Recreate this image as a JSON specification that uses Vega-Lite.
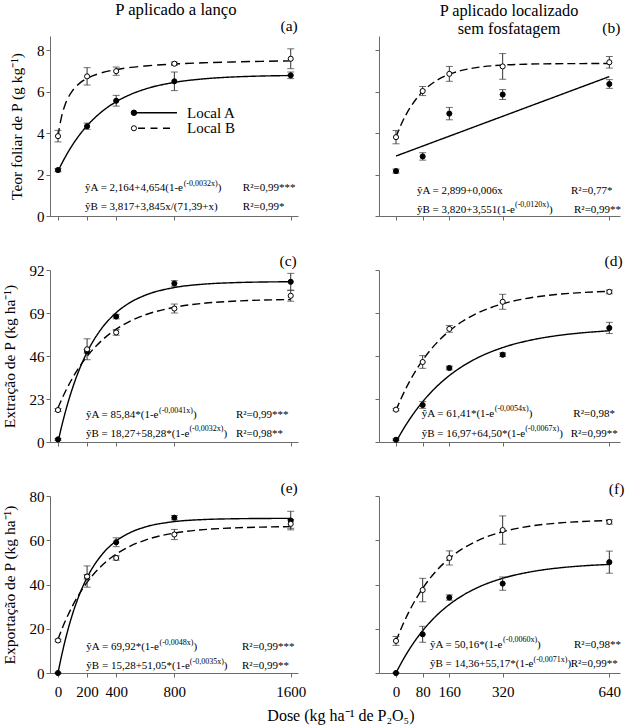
{
"$schema": "https://vega.github.io/schema/vega-lite/v6.json",
"background": "white",
"padding": {"left": 2, "top": 1, "right": 5, "bottom": 0},
"config": {
 "view": {"stroke": null},
 "font": "Liberation Serif",
 "axis": {"domainColor": "#6b6b6b", "tickColor": "#6b6b6b", "tickSize": 4, "labelFont": "Liberation Serif", "labelFontSize": 15, "labelColor": "black", "labelPadding": 2, "titleFont": "Liberation Serif", "titleFontSize": 15.5, "titleFontWeight": "normal", "titleColor": "black", "titlePadding": 12, "grid": false, "labelFlush": false, "format": "d"},
 "axisX": {"labelPadding": 7},
 "text": {"font": "Liberation Serif", "color": "black"}
},
"columns": 2,
"bounds": "flush",
"spacing": {"row": 54, "column": 81},
"resolve": {"scale": {"fill": "independent", "strokeDash": "independent"}},
"datasets": {
 "pts": [
  {"p":"a","x":0,"s":"Local A","y":2.22,"lo":2.14,"hi":2.30},{"p":"a","x":200,"s":"Local A","y":4.34,"lo":4.19,"hi":4.49},{"p":"a","x":400,"s":"Local A","y":5.57,"lo":5.31,"hi":5.83},{"p":"a","x":800,"s":"Local A","y":6.51,"lo":6.06,"hi":6.96},{"p":"a","x":1600,"s":"Local A","y":6.80,"lo":6.64,"hi":6.96},
  {"p":"a","x":0,"s":"Local B","y":3.86,"lo":3.58,"hi":4.14},{"p":"a","x":200,"s":"Local B","y":6.75,"lo":6.33,"hi":7.17},{"p":"a","x":400,"s":"Local B","y":7.00,"lo":6.80,"hi":7.20},{"p":"a","x":800,"s":"Local B","y":7.36,"lo":7.28,"hi":7.44},{"p":"a","x":1600,"s":"Local B","y":7.60,"lo":7.12,"hi":8.08},
  {"p":"b","x":0,"s":"Local A","y":2.17,"lo":2.07,"hi":2.27},{"p":"b","x":80,"s":"Local A","y":2.88,"lo":2.70,"hi":3.06},{"p":"b","x":160,"s":"Local A","y":4.95,"lo":4.65,"hi":5.25},{"p":"b","x":320,"s":"Local A","y":5.87,"lo":5.63,"hi":6.11},{"p":"b","x":640,"s":"Local A","y":6.38,"lo":6.17,"hi":6.59},
  {"p":"b","x":0,"s":"Local B","y":3.81,"lo":3.49,"hi":4.13},{"p":"b","x":80,"s":"Local B","y":6.04,"lo":5.82,"hi":6.26},{"p":"b","x":160,"s":"Local B","y":6.87,"lo":6.51,"hi":7.23},{"p":"b","x":320,"s":"Local B","y":7.23,"lo":6.61,"hi":7.85},{"p":"b","x":640,"s":"Local B","y":7.43,"lo":7.15,"hi":7.71},
  {"p":"c","x":0,"s":"Local A","y":1.4,"lo":0.9,"hi":1.9},{"p":"c","x":200,"s":"Local A","y":48.5,"lo":47.5,"hi":49.5},{"p":"c","x":400,"s":"Local A","y":67.1,"lo":65.9,"hi":68.3},{"p":"c","x":800,"s":"Local A","y":84.8,"lo":83.3,"hi":86.3},{"p":"c","x":1600,"s":"Local A","y":85.7,"lo":81.2,"hi":90.2},
  {"p":"c","x":0,"s":"Local B","y":17.1,"lo":16.3,"hi":17.9},{"p":"c","x":200,"s":"Local B","y":49.6,"lo":44.0,"hi":55.2},{"p":"c","x":400,"s":"Local B","y":58.6,"lo":57.1,"hi":60.1},{"p":"c","x":800,"s":"Local B","y":71.4,"lo":69.0,"hi":73.8},{"p":"c","x":1600,"s":"Local B","y":78.2,"lo":75.3,"hi":81.1},
  {"p":"d","x":0,"s":"Local A","y":1.2,"lo":0.7,"hi":1.7},{"p":"d","x":80,"s":"Local A","y":19.8,"lo":18.0,"hi":21.6},{"p":"d","x":160,"s":"Local A","y":39.6,"lo":38.6,"hi":40.6},{"p":"d","x":320,"s":"Local A","y":46.7,"lo":45.7,"hi":47.7},{"p":"d","x":640,"s":"Local A","y":61.0,"lo":58.0,"hi":64.0},
  {"p":"d","x":0,"s":"Local B","y":17.3,"lo":16.7,"hi":17.9},{"p":"d","x":80,"s":"Local B","y":42.8,"lo":39.4,"hi":46.2},{"p":"d","x":160,"s":"Local B","y":60.5,"lo":58.7,"hi":62.3},{"p":"d","x":320,"s":"Local B","y":75.0,"lo":71.0,"hi":79.0},{"p":"d","x":640,"s":"Local B","y":80.3,"lo":79.3,"hi":81.3},
  {"p":"e","x":0,"s":"Local A","y":0,"lo":0,"hi":0},{"p":"e","x":200,"s":"Local A","y":43.5,"lo":42.5,"hi":44.5},{"p":"e","x":400,"s":"Local A","y":59.1,"lo":57.1,"hi":61.1},{"p":"e","x":800,"s":"Local A","y":70.2,"lo":69.2,"hi":71.2},{"p":"e","x":1600,"s":"Local A","y":68.9,"lo":64.7,"hi":73.1},
  {"p":"e","x":0,"s":"Local B","y":14.7,"lo":14.1,"hi":15.3},{"p":"e","x":200,"s":"Local B","y":43.6,"lo":38.8,"hi":48.4},{"p":"e","x":400,"s":"Local B","y":52.0,"lo":51.0,"hi":53.0},{"p":"e","x":800,"s":"Local B","y":62.6,"lo":60.3,"hi":64.9},{"p":"e","x":1600,"s":"Local B","y":67.4,"lo":65.4,"hi":69.4},
  {"p":"f","x":0,"s":"Local A","y":0,"lo":0,"hi":0},{"p":"f","x":80,"s":"Local A","y":17.5,"lo":13.9,"hi":21.1},{"p":"f","x":160,"s":"Local A","y":34.1,"lo":32.9,"hi":35.3},{"p":"f","x":320,"s":"Local A","y":40.4,"lo":37.4,"hi":43.4},{"p":"f","x":640,"s":"Local A","y":50.1,"lo":45.1,"hi":55.1},
  {"p":"f","x":0,"s":"Local B","y":14.5,"lo":12.5,"hi":16.5},{"p":"f","x":80,"s":"Local B","y":37.5,"lo":32.2,"hi":42.8},{"p":"f","x":160,"s":"Local B","y":52.0,"lo":48.8,"hi":55.2},{"p":"f","x":320,"s":"Local B","y":64.6,"lo":58.2,"hi":71.0},{"p":"f","x":640,"s":"Local B","y":68.3,"lo":67.3,"hi":69.3}
 ],
 "crv": [
  {"p":"a","s":"Local A","x":0,"y":2.164},{"p":"a","s":"Local A","x":25,"y":2.522},{"p":"a","s":"Local A","x":50,"y":2.852},{"p":"a","s":"Local A","x":100,"y":3.439},{"p":"a","s":"Local A","x":150,"y":3.938},{"p":"a","s":"Local A","x":200,"y":4.364},{"p":"a","s":"Local A","x":300,"y":5.036},{"p":"a","s":"Local A","x":400,"y":5.524},{"p":"a","s":"Local A","x":500,"y":5.878},{"p":"a","s":"Local A","x":600,"y":6.136},{"p":"a","s":"Local A","x":800,"y":6.458},{"p":"a","s":"Local A","x":1000,"y":6.628},{"p":"a","s":"Local A","x":1200,"y":6.718},{"p":"a","s":"Local A","x":1400,"y":6.765},{"p":"a","s":"Local A","x":1600,"y":6.790},
  {"p":"a","s":"Local B","x":0,"y":3.817},{"p":"a","s":"Local B","x":5,"y":4.069},{"p":"a","s":"Local B","x":10,"y":4.289},{"p":"a","s":"Local B","x":25,"y":4.814},{"p":"a","s":"Local B","x":50,"y":5.401},{"p":"a","s":"Local B","x":75,"y":5.787},{"p":"a","s":"Local B","x":100,"y":6.060},{"p":"a","s":"Local B","x":150,"y":6.422},{"p":"a","s":"Local B","x":200,"y":6.651},{"p":"a","s":"Local B","x":300,"y":6.923},{"p":"a","s":"Local B","x":400,"y":7.080},{"p":"a","s":"Local B","x":500,"y":7.182},{"p":"a","s":"Local B","x":600,"y":7.253},{"p":"a","s":"Local B","x":800,"y":7.347},{"p":"a","s":"Local B","x":1000,"y":7.406},{"p":"a","s":"Local B","x":1200,"y":7.446},{"p":"a","s":"Local B","x":1400,"y":7.475},{"p":"a","s":"Local B","x":1600,"y":7.498},
  {"p":"b","s":"Local A","x":0,"y":2.899},{"p":"b","s":"Local A","x":640,"y":6.739},
  {"p":"b","s":"Local B","x":0,"y":3.820},{"p":"b","s":"Local B","x":10,"y":4.222},{"p":"b","s":"Local B","x":20,"y":4.578},{"p":"b","s":"Local B","x":40,"y":5.174},{"p":"b","s":"Local B","x":60,"y":5.642},{"p":"b","s":"Local B","x":80,"y":6.011},{"p":"b","s":"Local B","x":120,"y":6.530},{"p":"b","s":"Local B","x":160,"y":6.850},{"p":"b","s":"Local B","x":200,"y":7.049},{"p":"b","s":"Local B","x":240,"y":7.172},{"p":"b","s":"Local B","x":320,"y":7.295},{"p":"b","s":"Local B","x":400,"y":7.342},{"p":"b","s":"Local B","x":480,"y":7.360},{"p":"b","s":"Local B","x":560,"y":7.367},{"p":"b","s":"Local B","x":640,"y":7.369},
  {"p":"c","s":"Local A","x":0,"y":0},{"p":"c","s":"Local A","x":25,"y":8.36},{"p":"c","s":"Local A","x":50,"y":15.91},{"p":"c","s":"Local A","x":100,"y":28.87},{"p":"c","s":"Local A","x":150,"y":39.43},{"p":"c","s":"Local A","x":200,"y":48.03},{"p":"c","s":"Local A","x":300,"y":60.75},{"p":"c","s":"Local A","x":400,"y":69.19},{"p":"c","s":"Local A","x":500,"y":74.79},{"p":"c","s":"Local A","x":600,"y":78.51},{"p":"c","s":"Local A","x":800,"y":82.61},{"p":"c","s":"Local A","x":1000,"y":84.42},{"p":"c","s":"Local A","x":1200,"y":85.21},{"p":"c","s":"Local A","x":1400,"y":85.57},{"p":"c","s":"Local A","x":1600,"y":85.72},
  {"p":"c","s":"Local B","x":0,"y":18.27},{"p":"c","s":"Local B","x":25,"y":22.75},{"p":"c","s":"Local B","x":50,"y":26.89},{"p":"c","s":"Local B","x":100,"y":34.23},{"p":"c","s":"Local B","x":150,"y":40.49},{"p":"c","s":"Local B","x":200,"y":45.82},{"p":"c","s":"Local B","x":300,"y":54.23},{"p":"c","s":"Local B","x":400,"y":60.35},{"p":"c","s":"Local B","x":500,"y":64.78},{"p":"c","s":"Local B","x":600,"y":68.01},{"p":"c","s":"Local B","x":800,"y":72.05},{"p":"c","s":"Local B","x":1000,"y":74.17},{"p":"c","s":"Local B","x":1200,"y":75.30},{"p":"c","s":"Local B","x":1400,"y":75.89},{"p":"c","s":"Local B","x":1600,"y":76.20},
  {"p":"d","s":"Local A","x":0,"y":0},{"p":"d","s":"Local A","x":10,"y":3.23},{"p":"d","s":"Local A","x":20,"y":6.29},{"p":"d","s":"Local A","x":40,"y":11.93},{"p":"d","s":"Local A","x":60,"y":16.99},{"p":"d","s":"Local A","x":80,"y":21.54},{"p":"d","s":"Local A","x":120,"y":29.29},{"p":"d","s":"Local A","x":160,"y":35.53},{"p":"d","s":"Local A","x":200,"y":40.55},{"p":"d","s":"Local A","x":240,"y":44.61},{"p":"d","s":"Local A","x":320,"y":50.50},{"p":"d","s":"Local A","x":400,"y":54.33},{"p":"d","s":"Local A","x":480,"y":56.81},{"p":"d","s":"Local A","x":560,"y":58.42},{"p":"d","s":"Local A","x":640,"y":59.47},
  {"p":"d","s":"Local B","x":0,"y":16.97},{"p":"d","s":"Local B","x":10,"y":21.15},{"p":"d","s":"Local B","x":20,"y":25.06},{"p":"d","s":"Local B","x":40,"y":32.13},{"p":"d","s":"Local B","x":60,"y":38.32},{"p":"d","s":"Local B","x":80,"y":43.73},{"p":"d","s":"Local B","x":120,"y":52.61},{"p":"d","s":"Local B","x":160,"y":59.39},{"p":"d","s":"Local B","x":200,"y":64.58},{"p":"d","s":"Local B","x":240,"y":68.55},{"p":"d","s":"Local B","x":320,"y":73.91},{"p":"d","s":"Local B","x":400,"y":77.05},{"p":"d","s":"Local B","x":480,"y":78.88},{"p":"d","s":"Local B","x":560,"y":79.95},{"p":"d","s":"Local B","x":640,"y":80.59},
  {"p":"e","s":"Local A","x":0,"y":0},{"p":"e","s":"Local A","x":25,"y":7.91},{"p":"e","s":"Local A","x":50,"y":14.92},{"p":"e","s":"Local A","x":100,"y":26.65},{"p":"e","s":"Local A","x":150,"y":35.88},{"p":"e","s":"Local A","x":200,"y":43.15},{"p":"e","s":"Local A","x":300,"y":53.36},{"p":"e","s":"Local A","x":400,"y":59.67},{"p":"e","s":"Local A","x":500,"y":63.58},{"p":"e","s":"Local A","x":600,"y":66.00},{"p":"e","s":"Local A","x":800,"y":68.42},{"p":"e","s":"Local A","x":1000,"y":69.35},{"p":"e","s":"Local A","x":1200,"y":69.70},{"p":"e","s":"Local A","x":1400,"y":69.84},{"p":"e","s":"Local A","x":1600,"y":69.89},
  {"p":"e","s":"Local B","x":0,"y":15.28},{"p":"e","s":"Local B","x":25,"y":19.56},{"p":"e","s":"Local B","x":50,"y":23.47},{"p":"e","s":"Local B","x":100,"y":30.36},{"p":"e","s":"Local B","x":150,"y":36.13},{"p":"e","s":"Local B","x":200,"y":40.98},{"p":"e","s":"Local B","x":300,"y":48.47},{"p":"e","s":"Local B","x":400,"y":53.74},{"p":"e","s":"Local B","x":500,"y":57.46},{"p":"e","s":"Local B","x":600,"y":60.08},{"p":"e","s":"Local B","x":800,"y":63.23},{"p":"e","s":"Local B","x":1000,"y":64.79},{"p":"e","s":"Local B","x":1200,"y":65.56},{"p":"e","s":"Local B","x":1400,"y":65.95},{"p":"e","s":"Local B","x":1600,"y":66.14},
  {"p":"f","s":"Local A","x":0,"y":0},{"p":"f","s":"Local A","x":10,"y":2.92},{"p":"f","s":"Local A","x":20,"y":5.67},{"p":"f","s":"Local A","x":40,"y":10.70},{"p":"f","s":"Local A","x":60,"y":15.16},{"p":"f","s":"Local A","x":80,"y":19.12},{"p":"f","s":"Local A","x":120,"y":25.74},{"p":"f","s":"Local A","x":160,"y":30.95},{"p":"f","s":"Local A","x":200,"y":35.05},{"p":"f","s":"Local A","x":240,"y":38.28},{"p":"f","s":"Local A","x":320,"y":42.81},{"p":"f","s":"Local A","x":400,"y":45.61},{"p":"f","s":"Local A","x":480,"y":47.35},{"p":"f","s":"Local A","x":560,"y":48.42},{"p":"f","s":"Local A","x":640,"y":49.08},
  {"p":"f","s":"Local B","x":0,"y":14.36},{"p":"f","s":"Local B","x":10,"y":18.14},{"p":"f","s":"Local B","x":20,"y":21.66},{"p":"f","s":"Local B","x":40,"y":28.00},{"p":"f","s":"Local B","x":60,"y":33.50},{"p":"f","s":"Local B","x":80,"y":38.27},{"p":"f","s":"Local B","x":120,"y":45.99},{"p":"f","s":"Local B","x":160,"y":51.82},{"p":"f","s":"Local B","x":200,"y":56.20},{"p":"f","s":"Local B","x":240,"y":59.49},{"p":"f","s":"Local B","x":320,"y":63.84},{"p":"f","s":"Local B","x":400,"y":66.31},{"p":"f","s":"Local B","x":480,"y":67.70},{"p":"f","s":"Local B","x":560,"y":68.49},{"p":"f","s":"Local B","x":640,"y":68.95}
 ]
},
"concat": [
 {
  "width": 248, "height": 180,
  "layer": [
   {"data": {"name": "crv"}, "transform": [{"filter": "datum.p === 'a'"}],
    "mark": {"type": "line", "interpolate": "monotone", "color": "black", "strokeWidth": 1.4},
    "encoding": {
     "x": {"field": "x", "type": "quantitative", "scale": {"domain": [-55, 1650], "nice": false}, "axis": {"values": [0, 200, 400, 800, 1600], "labels": false, "title": null}},
     "y": {"field": "y", "type": "quantitative", "scale": {"domain": [0, 8.7], "nice": false}, "axis": {"values": [0, 2, 4, 6, 8], "title": "Teor foliar de P (g kg⁻¹)"}},
     "detail": {"field": "s"},
     "strokeDash": {"field": "s", "type": "nominal", "scale": {"domain": ["Local A", "Local B"], "range": [[1, 0], [9, 5]]}, "legend": null}
    }},
   {"data": {"name": "pts"}, "transform": [{"filter": "datum.p === 'a'"}], "mark": {"type": "rule", "color": "#333", "strokeWidth": 1},
    "encoding": {"x": {"field": "x", "type": "quantitative"}, "y": {"field": "lo", "type": "quantitative"}, "y2": {"field": "hi"}}},
   {"data": {"name": "pts"}, "transform": [{"filter": "datum.p === 'a'"}], "mark": {"type": "tick", "orient": "horizontal", "size": 7, "thickness": 1, "color": "#333"},
    "encoding": {"x": {"field": "x", "type": "quantitative"}, "y": {"field": "lo", "type": "quantitative"}}},
   {"data": {"name": "pts"}, "transform": [{"filter": "datum.p === 'a'"}], "mark": {"type": "tick", "orient": "horizontal", "size": 7, "thickness": 1, "color": "#333"},
    "encoding": {"x": {"field": "x", "type": "quantitative"}, "y": {"field": "hi", "type": "quantitative"}}},
   {"data": {"name": "pts"}, "transform": [{"filter": "datum.p === 'a'"}],
    "mark": {"type": "point", "shape": "circle", "filled": true, "size": 26, "stroke": "black", "strokeWidth": 1, "opacity": 1},
    "encoding": {"x": {"field": "x", "type": "quantitative"}, "y": {"field": "y", "type": "quantitative"},
     "fill": {"field": "s", "type": "nominal", "scale": {"domain": ["Local A", "Local B"], "range": ["black", "white"]}, "legend": null}}},
   {"data": {"values": [{}]}, "mark": {"type": "rule", "color": "black", "strokeWidth": 1.4}, "encoding": {"x": {"datum": 522}, "x2": {"datum": 818}, "y": {"datum": 4.99}}},
   {"data": {"values": [{}]}, "mark": {"type": "rule", "color": "black", "strokeWidth": 1.4, "strokeDash": [7, 5.5]}, "encoding": {"x": {"datum": 550}, "x2": {"datum": 800}, "y": {"datum": 4.24}}},
   {"data": {"values": [{}]}, "mark": {"type": "point", "shape": "circle", "filled": true, "size": 30, "fill": "black", "stroke": "black", "strokeWidth": 1, "opacity": 1}, "encoding": {"x": {"datum": 522}, "y": {"datum": 4.99}}},
   {"data": {"values": [{}]}, "mark": {"type": "point", "shape": "circle", "filled": true, "size": 26, "fill": "white", "stroke": "black", "strokeWidth": 1, "opacity": 1}, "encoding": {"x": {"datum": 522}, "y": {"datum": 4.24}}},
   {"data": {"values": [{}]}, "mark": {"type": "text", "align": "left", "baseline": "middle", "fontSize": 15}, "encoding": {"x": {"datum": 887}, "y": {"datum": 4.99}, "text": {"value": "Local A"}}},
   {"data": {"values": [{}]}, "mark": {"type": "text", "align": "left", "baseline": "middle", "fontSize": 15}, "encoding": {"x": {"datum": 887}, "y": {"datum": 4.24}, "text": {"value": "Local B"}}},
   {"data": {"values": [{}]}, "mark": {"type": "text", "align": "center", "baseline": "alphabetic", "fontSize": 16.7}, "encoding": {"x": {"datum": 811}, "y": {"datum": 9.715}, "text": {"value": "P aplicado a lanço"}}},
   {"data": {"values": [{}]}, "mark": {"type": "text", "align": "left", "baseline": "middle", "fontSize": 11}, "encoding": {"x": {"datum": 186}, "y": {"datum": 1.34}, "text": {"value": "ŷA = 2,164+4,654(1-e"}}},
   {"data": {"values": [{}]}, "mark": {"type": "text", "align": "left", "baseline": "middle", "fontSize": 8, "dx": 98.6, "dy": -4.5}, "encoding": {"x": {"datum": 186}, "y": {"datum": 1.34}, "text": {"value": "(-0,0032x)"}}},
   {"data": {"values": [{}]}, "mark": {"type": "text", "align": "left", "baseline": "middle", "fontSize": 11, "dx": 132.6}, "encoding": {"x": {"datum": 186}, "y": {"datum": 1.34}, "text": {"value": ")"}}},
   {"data": {"values": [{}]}, "mark": {"type": "text", "align": "left", "baseline": "middle", "fontSize": 11}, "encoding": {"x": {"datum": 186}, "y": {"datum": 0.42}, "text": {"value": "ŷB = 3,817+3,845x/(71,39+x)"}}},
   {"data": {"values": [{}]}, "mark": {"type": "text", "align": "left", "baseline": "middle", "fontSize": 11}, "encoding": {"x": {"datum": 1271}, "y": {"datum": 1.34}, "text": {"value": "R²=0,99***"}}},
   {"data": {"values": [{}]}, "mark": {"type": "text", "align": "left", "baseline": "middle", "fontSize": 11}, "encoding": {"x": {"datum": 1271}, "y": {"datum": 0.42}, "text": {"value": "R²=0,99*"}}},
   {"data": {"values": [{}]}, "mark": {"type": "text", "align": "right", "baseline": "middle", "fontSize": 15.5}, "encoding": {"x": {"datum": 1648}, "y": {"datum": 9.18}, "text": {"value": "(a)"}}}
  ]
 },
 {
  "width": 241, "height": 180,
  "layer": [
   {"data": {"name": "crv"}, "transform": [{"filter": "datum.p === 'b'"}],
    "mark": {"type": "line", "interpolate": "monotone", "color": "black", "strokeWidth": 1.4},
    "encoding": {
     "x": {"field": "x", "type": "quantitative", "scale": {"domain": [-51, 672], "nice": false}, "axis": {"values": [0, 80, 160, 320, 640], "labels": false, "title": null}},
     "y": {"field": "y", "type": "quantitative", "scale": {"domain": [0, 8.7], "nice": false}, "axis": {"values": [0, 2, 4, 6, 8], "labels": false, "title": null}},
     "detail": {"field": "s"},
     "strokeDash": {"field": "s", "type": "nominal", "scale": {"domain": ["Local A", "Local B"], "range": [[1, 0], [8, 4]]}, "legend": null}
    }},
   {"data": {"name": "pts"}, "transform": [{"filter": "datum.p === 'b'"}], "mark": {"type": "rule", "color": "#333", "strokeWidth": 1},
    "encoding": {"x": {"field": "x", "type": "quantitative"}, "y": {"field": "lo", "type": "quantitative"}, "y2": {"field": "hi"}}},
   {"data": {"name": "pts"}, "transform": [{"filter": "datum.p === 'b'"}], "mark": {"type": "tick", "orient": "horizontal", "size": 7, "thickness": 1, "color": "#333"},
    "encoding": {"x": {"field": "x", "type": "quantitative"}, "y": {"field": "lo", "type": "quantitative"}}},
   {"data": {"name": "pts"}, "transform": [{"filter": "datum.p === 'b'"}], "mark": {"type": "tick", "orient": "horizontal", "size": 7, "thickness": 1, "color": "#333"},
    "encoding": {"x": {"field": "x", "type": "quantitative"}, "y": {"field": "hi", "type": "quantitative"}}},
   {"data": {"name": "pts"}, "transform": [{"filter": "datum.p === 'b'"}],
    "mark": {"type": "point", "shape": "circle", "filled": true, "size": 26, "stroke": "black", "strokeWidth": 1, "opacity": 1},
    "encoding": {"x": {"field": "x", "type": "quantitative"}, "y": {"field": "y", "type": "quantitative"},
     "fill": {"field": "s", "type": "nominal", "scale": {"domain": ["Local A", "Local B"], "range": ["black", "white"]}, "legend": null}}},
   {"data": {"values": [{}]}, "mark": {"type": "text", "align": "center", "baseline": "alphabetic", "fontSize": 16.3}, "encoding": {"x": {"datum": 339}, "y": {"datum": 9.67}, "text": {"value": "P aplicado localizado"}}},
   {"data": {"values": [{}]}, "mark": {"type": "text", "align": "center", "baseline": "alphabetic", "fontSize": 16.3}, "encoding": {"x": {"datum": 339}, "y": {"datum": 8.82}, "text": {"value": "sem fosfatagem"}}},
   {"data": {"values": [{}]}, "mark": {"type": "text", "align": "left", "baseline": "middle", "fontSize": 11}, "encoding": {"x": {"datum": 63}, "y": {"datum": 1.19}, "text": {"value": "ŷA = 2,899+0,006x"}}},
   {"data": {"values": [{}]}, "mark": {"type": "text", "align": "left", "baseline": "middle", "fontSize": 11}, "encoding": {"x": {"datum": 63}, "y": {"datum": 0.30}, "text": {"value": "ŷB = 3,820+3,551(1-e"}}},
   {"data": {"values": [{}]}, "mark": {"type": "text", "align": "left", "baseline": "middle", "fontSize": 8, "dx": 98.0, "dy": -4.5}, "encoding": {"x": {"datum": 63}, "y": {"datum": 0.30}, "text": {"value": "(-0,0120x)"}}},
   {"data": {"values": [{}]}, "mark": {"type": "text", "align": "left", "baseline": "middle", "fontSize": 11, "dx": 132.0}, "encoding": {"x": {"datum": 63}, "y": {"datum": 0.30}, "text": {"value": ")"}}},
   {"data": {"values": [{}]}, "mark": {"type": "text", "align": "left", "baseline": "middle", "fontSize": 11}, "encoding": {"x": {"datum": 525}, "y": {"datum": 1.19}, "text": {"value": "R²=0,77*"}}},
   {"data": {"values": [{}]}, "mark": {"type": "text", "align": "left", "baseline": "middle", "fontSize": 11}, "encoding": {"x": {"datum": 534}, "y": {"datum": 0.30}, "text": {"value": "R²=0,99**"}}},
   {"data": {"values": [{}]}, "mark": {"type": "text", "align": "right", "baseline": "middle", "fontSize": 15.5}, "encoding": {"x": {"datum": 673}, "y": {"datum": 9.09}, "text": {"value": "(b)"}}}
  ]
 },
 {
  "width": 248, "height": 172,
  "layer": [
   {"data": {"name": "crv"}, "transform": [{"filter": "datum.p === 'c'"}],
    "mark": {"type": "line", "interpolate": "monotone", "color": "black", "strokeWidth": 1.4},
    "encoding": {
     "x": {"field": "x", "type": "quantitative", "scale": {"domain": [-55, 1650], "nice": false}, "axis": {"values": [0, 200, 400, 800, 1600], "labels": false, "title": null}},
     "y": {"field": "y", "type": "quantitative", "scale": {"domain": [0, 92], "nice": false}, "axis": {"values": [0, 23, 46, 69, 92], "title": "Extração de P (kg ha⁻¹)"}},
     "detail": {"field": "s"},
     "strokeDash": {"field": "s", "type": "nominal", "scale": {"domain": ["Local A", "Local B"], "range": [[1, 0], [8, 4]]}, "legend": null}
    }},
   {"data": {"name": "pts"}, "transform": [{"filter": "datum.p === 'c'"}], "mark": {"type": "rule", "color": "#333", "strokeWidth": 1},
    "encoding": {"x": {"field": "x", "type": "quantitative"}, "y": {"field": "lo", "type": "quantitative"}, "y2": {"field": "hi"}}},
   {"data": {"name": "pts"}, "transform": [{"filter": "datum.p === 'c'"}], "mark": {"type": "tick", "orient": "horizontal", "size": 7, "thickness": 1, "color": "#333"},
    "encoding": {"x": {"field": "x", "type": "quantitative"}, "y": {"field": "lo", "type": "quantitative"}}},
   {"data": {"name": "pts"}, "transform": [{"filter": "datum.p === 'c'"}], "mark": {"type": "tick", "orient": "horizontal", "size": 7, "thickness": 1, "color": "#333"},
    "encoding": {"x": {"field": "x", "type": "quantitative"}, "y": {"field": "hi", "type": "quantitative"}}},
   {"data": {"name": "pts"}, "transform": [{"filter": "datum.p === 'c'"}],
    "mark": {"type": "point", "shape": "circle", "filled": true, "size": 26, "stroke": "black", "strokeWidth": 1, "opacity": 1},
    "encoding": {"x": {"field": "x", "type": "quantitative"}, "y": {"field": "y", "type": "quantitative"},
     "fill": {"field": "s", "type": "nominal", "scale": {"domain": ["Local A", "Local B"], "range": ["black", "white"]}, "legend": null}}},
   {"data": {"values": [{}]}, "mark": {"type": "text", "align": "left", "baseline": "middle", "fontSize": 11}, "encoding": {"x": {"datum": 192}, "y": {"datum": 14.2}, "text": {"value": "ŷA = 85,84*(1-e"}}},
   {"data": {"values": [{}]}, "mark": {"type": "text", "align": "left", "baseline": "middle", "fontSize": 8, "dx": 73.1, "dy": -4.5}, "encoding": {"x": {"datum": 192}, "y": {"datum": 14.2}, "text": {"value": "(-0,0041x)"}}},
   {"data": {"values": [{}]}, "mark": {"type": "text", "align": "left", "baseline": "middle", "fontSize": 11, "dx": 107.1}, "encoding": {"x": {"datum": 192}, "y": {"datum": 14.2}, "text": {"value": ")"}}},
   {"data": {"values": [{}]}, "mark": {"type": "text", "align": "left", "baseline": "middle", "fontSize": 11}, "encoding": {"x": {"datum": 192}, "y": {"datum": 4.4}, "text": {"value": "ŷB = 18,27+58,28*(1-e"}}},
   {"data": {"values": [{}]}, "mark": {"type": "text", "align": "left", "baseline": "middle", "fontSize": 8, "dx": 103.5, "dy": -4.5}, "encoding": {"x": {"datum": 192}, "y": {"datum": 4.4}, "text": {"value": "(-0,0032x)"}}},
   {"data": {"values": [{}]}, "mark": {"type": "text", "align": "left", "baseline": "middle", "fontSize": 11, "dx": 137.5}, "encoding": {"x": {"datum": 192}, "y": {"datum": 4.4}, "text": {"value": ")"}}},
   {"data": {"values": [{}]}, "mark": {"type": "text", "align": "left", "baseline": "middle", "fontSize": 11}, "encoding": {"x": {"datum": 1223}, "y": {"datum": 14.2}, "text": {"value": "R²=0,99***"}}},
   {"data": {"values": [{}]}, "mark": {"type": "text", "align": "left", "baseline": "middle", "fontSize": 11}, "encoding": {"x": {"datum": 1223}, "y": {"datum": 4.4}, "text": {"value": "R²=0,98**"}}},
   {"data": {"values": [{}]}, "mark": {"type": "text", "align": "right", "baseline": "middle", "fontSize": 15.5}, "encoding": {"x": {"datum": 1641}, "y": {"datum": 96.8}, "text": {"value": "(c)"}}}
  ]
 },
 {
  "width": 241, "height": 172,
  "layer": [
   {"data": {"name": "crv"}, "transform": [{"filter": "datum.p === 'd'"}],
    "mark": {"type": "line", "interpolate": "monotone", "color": "black", "strokeWidth": 1.4},
    "encoding": {
     "x": {"field": "x", "type": "quantitative", "scale": {"domain": [-51, 672], "nice": false}, "axis": {"values": [0, 80, 160, 320, 640], "labels": false, "title": null}},
     "y": {"field": "y", "type": "quantitative", "scale": {"domain": [0, 92], "nice": false}, "axis": {"values": [0, 23, 46, 69, 92], "labels": false, "title": null}},
     "detail": {"field": "s"},
     "strokeDash": {"field": "s", "type": "nominal", "scale": {"domain": ["Local A", "Local B"], "range": [[1, 0], [8, 4]]}, "legend": null}
    }},
   {"data": {"name": "pts"}, "transform": [{"filter": "datum.p === 'd'"}], "mark": {"type": "rule", "color": "#333", "strokeWidth": 1},
    "encoding": {"x": {"field": "x", "type": "quantitative"}, "y": {"field": "lo", "type": "quantitative"}, "y2": {"field": "hi"}}},
   {"data": {"name": "pts"}, "transform": [{"filter": "datum.p === 'd'"}], "mark": {"type": "tick", "orient": "horizontal", "size": 7, "thickness": 1, "color": "#333"},
    "encoding": {"x": {"field": "x", "type": "quantitative"}, "y": {"field": "lo", "type": "quantitative"}}},
   {"data": {"name": "pts"}, "transform": [{"filter": "datum.p === 'd'"}], "mark": {"type": "tick", "orient": "horizontal", "size": 7, "thickness": 1, "color": "#333"},
    "encoding": {"x": {"field": "x", "type": "quantitative"}, "y": {"field": "hi", "type": "quantitative"}}},
   {"data": {"name": "pts"}, "transform": [{"filter": "datum.p === 'd'"}],
    "mark": {"type": "point", "shape": "circle", "filled": true, "size": 26, "stroke": "black", "strokeWidth": 1, "opacity": 1},
    "encoding": {"x": {"field": "x", "type": "quantitative"}, "y": {"field": "y", "type": "quantitative"},
     "fill": {"field": "s", "type": "nominal", "scale": {"domain": ["Local A", "Local B"], "range": ["black", "white"]}, "legend": null}}},
   {"data": {"values": [{}]}, "mark": {"type": "text", "align": "left", "baseline": "middle", "fontSize": 11}, "encoding": {"x": {"datum": 77}, "y": {"datum": 15.0}, "text": {"value": "ŷA = 61,41*(1-e"}}},
   {"data": {"values": [{}]}, "mark": {"type": "text", "align": "left", "baseline": "middle", "fontSize": 8, "dx": 73.1, "dy": -4.5}, "encoding": {"x": {"datum": 77}, "y": {"datum": 15.0}, "text": {"value": "(-0,0054x)"}}},
   {"data": {"values": [{}]}, "mark": {"type": "text", "align": "left", "baseline": "middle", "fontSize": 11, "dx": 107.1}, "encoding": {"x": {"datum": 77}, "y": {"datum": 15.0}, "text": {"value": ")"}}},
   {"data": {"values": [{}]}, "mark": {"type": "text", "align": "left", "baseline": "middle", "fontSize": 11}, "encoding": {"x": {"datum": 77}, "y": {"datum": 4.3}, "text": {"value": "ŷB = 16,97+64,50*(1-e"}}},
   {"data": {"values": [{}]}, "mark": {"type": "text", "align": "left", "baseline": "middle", "fontSize": 8, "dx": 103.5, "dy": -4.5}, "encoding": {"x": {"datum": 77}, "y": {"datum": 4.3}, "text": {"value": "(-0,0067x)"}}},
   {"data": {"values": [{}]}, "mark": {"type": "text", "align": "left", "baseline": "middle", "fontSize": 11, "dx": 137.5}, "encoding": {"x": {"datum": 77}, "y": {"datum": 4.3}, "text": {"value": ")"}}},
   {"data": {"values": [{}]}, "mark": {"type": "text", "align": "left", "baseline": "middle", "fontSize": 11}, "encoding": {"x": {"datum": 532}, "y": {"datum": 15.0}, "text": {"value": "R²=0,98*"}}},
   {"data": {"values": [{}]}, "mark": {"type": "text", "align": "left", "baseline": "middle", "fontSize": 11}, "encoding": {"x": {"datum": 524}, "y": {"datum": 4.3}, "text": {"value": "R²=0,99**"}}},
   {"data": {"values": [{}]}, "mark": {"type": "text", "align": "right", "baseline": "middle", "fontSize": 15.5}, "encoding": {"x": {"datum": 680}, "y": {"datum": 96.8}, "text": {"value": "(d)"}}}
  ]
 },
 {
  "width": 248, "height": 177,
  "layer": [
   {"data": {"name": "crv"}, "transform": [{"filter": "datum.p === 'e'"}],
    "mark": {"type": "line", "interpolate": "monotone", "color": "black", "strokeWidth": 1.4},
    "encoding": {
     "x": {"field": "x", "type": "quantitative", "scale": {"domain": [-55, 1650], "nice": false}, "axis": {"values": [0, 200, 400, 800, 1600], "title": null}},
     "y": {"field": "y", "type": "quantitative", "scale": {"domain": [0, 80], "nice": false}, "axis": {"values": [0, 20, 40, 60, 80], "title": "Exportação de P (kg ha⁻¹)"}},
     "detail": {"field": "s"},
     "strokeDash": {"field": "s", "type": "nominal", "scale": {"domain": ["Local A", "Local B"], "range": [[1, 0], [8, 4]]}, "legend": null}
    }},
   {"data": {"name": "pts"}, "transform": [{"filter": "datum.p === 'e'"}], "mark": {"type": "rule", "color": "#333", "strokeWidth": 1},
    "encoding": {"x": {"field": "x", "type": "quantitative"}, "y": {"field": "lo", "type": "quantitative"}, "y2": {"field": "hi"}}},
   {"data": {"name": "pts"}, "transform": [{"filter": "datum.p === 'e'"}], "mark": {"type": "tick", "orient": "horizontal", "size": 7, "thickness": 1, "color": "#333"},
    "encoding": {"x": {"field": "x", "type": "quantitative"}, "y": {"field": "lo", "type": "quantitative"}}},
   {"data": {"name": "pts"}, "transform": [{"filter": "datum.p === 'e'"}], "mark": {"type": "tick", "orient": "horizontal", "size": 7, "thickness": 1, "color": "#333"},
    "encoding": {"x": {"field": "x", "type": "quantitative"}, "y": {"field": "hi", "type": "quantitative"}}},
   {"data": {"name": "pts"}, "transform": [{"filter": "datum.p === 'e'"}],
    "mark": {"type": "point", "shape": "circle", "filled": true, "size": 26, "stroke": "black", "strokeWidth": 1, "opacity": 1},
    "encoding": {"x": {"field": "x", "type": "quantitative"}, "y": {"field": "y", "type": "quantitative"},
     "fill": {"field": "s", "type": "nominal", "scale": {"domain": ["Local A", "Local B"], "range": ["black", "white"]}, "legend": null}}},
   {"data": {"values": [{}]}, "mark": {"type": "text", "align": "left", "baseline": "middle", "fontSize": 11}, "encoding": {"x": {"datum": 195}, "y": {"datum": 11.6}, "text": {"value": "ŷA = 69,92*(1-e"}}},
   {"data": {"values": [{}]}, "mark": {"type": "text", "align": "left", "baseline": "middle", "fontSize": 8, "dx": 73.1, "dy": -4.5}, "encoding": {"x": {"datum": 195}, "y": {"datum": 11.6}, "text": {"value": "(-0,0048x)"}}},
   {"data": {"values": [{}]}, "mark": {"type": "text", "align": "left", "baseline": "middle", "fontSize": 11, "dx": 107.1}, "encoding": {"x": {"datum": 195}, "y": {"datum": 11.6}, "text": {"value": ")"}}},
   {"data": {"values": [{}]}, "mark": {"type": "text", "align": "left", "baseline": "middle", "fontSize": 11}, "encoding": {"x": {"datum": 195}, "y": {"datum": 3.0}, "text": {"value": "ŷB = 15,28+51,05*(1-e"}}},
   {"data": {"values": [{}]}, "mark": {"type": "text", "align": "left", "baseline": "middle", "fontSize": 8, "dx": 103.5, "dy": -4.5}, "encoding": {"x": {"datum": 195}, "y": {"datum": 3.0}, "text": {"value": "(-0,0035x)"}}},
   {"data": {"values": [{}]}, "mark": {"type": "text", "align": "left", "baseline": "middle", "fontSize": 11, "dx": 137.5}, "encoding": {"x": {"datum": 195}, "y": {"datum": 3.0}, "text": {"value": ")"}}},
   {"data": {"values": [{}]}, "mark": {"type": "text", "align": "left", "baseline": "middle", "fontSize": 11}, "encoding": {"x": {"datum": 1265}, "y": {"datum": 11.6}, "text": {"value": "R²=0,99***"}}},
   {"data": {"values": [{}]}, "mark": {"type": "text", "align": "left", "baseline": "middle", "fontSize": 11}, "encoding": {"x": {"datum": 1265}, "y": {"datum": 3.0}, "text": {"value": "R²=0,99**"}}},
   {"data": {"values": [{}]}, "mark": {"type": "text", "align": "right", "baseline": "middle", "fontSize": 15.5}, "encoding": {"x": {"datum": 1648}, "y": {"datum": 83.6}, "text": {"value": "(e)"}}},
   {"data": {"values": [{}]}, "mark": {"type": "text", "align": "center", "baseline": "alphabetic", "fontSize": 16}, "encoding": {"x": {"datum": 1945}, "y": {"datum": -21.7}, "text": {"value": "Dose (kg ha⁻¹ de P₂O₅)"}}}
  ]
 },
 {
  "width": 241, "height": 177,
  "layer": [
   {"data": {"name": "crv"}, "transform": [{"filter": "datum.p === 'f'"}],
    "mark": {"type": "line", "interpolate": "monotone", "color": "black", "strokeWidth": 1.4},
    "encoding": {
     "x": {"field": "x", "type": "quantitative", "scale": {"domain": [-51, 672], "nice": false}, "axis": {"values": [0, 80, 160, 320, 640], "title": null}},
     "y": {"field": "y", "type": "quantitative", "scale": {"domain": [0, 80], "nice": false}, "axis": {"values": [0, 20, 40, 60, 80], "labels": false, "title": null}},
     "detail": {"field": "s"},
     "strokeDash": {"field": "s", "type": "nominal", "scale": {"domain": ["Local A", "Local B"], "range": [[1, 0], [8, 4]]}, "legend": null}
    }},
   {"data": {"name": "pts"}, "transform": [{"filter": "datum.p === 'f'"}], "mark": {"type": "rule", "color": "#333", "strokeWidth": 1},
    "encoding": {"x": {"field": "x", "type": "quantitative"}, "y": {"field": "lo", "type": "quantitative"}, "y2": {"field": "hi"}}},
   {"data": {"name": "pts"}, "transform": [{"filter": "datum.p === 'f'"}], "mark": {"type": "tick", "orient": "horizontal", "size": 7, "thickness": 1, "color": "#333"},
    "encoding": {"x": {"field": "x", "type": "quantitative"}, "y": {"field": "lo", "type": "quantitative"}}},
   {"data": {"name": "pts"}, "transform": [{"filter": "datum.p === 'f'"}], "mark": {"type": "tick", "orient": "horizontal", "size": 7, "thickness": 1, "color": "#333"},
    "encoding": {"x": {"field": "x", "type": "quantitative"}, "y": {"field": "hi", "type": "quantitative"}}},
   {"data": {"name": "pts"}, "transform": [{"filter": "datum.p === 'f'"}],
    "mark": {"type": "point", "shape": "circle", "filled": true, "size": 26, "stroke": "black", "strokeWidth": 1, "opacity": 1},
    "encoding": {"x": {"field": "x", "type": "quantitative"}, "y": {"field": "y", "type": "quantitative"},
     "fill": {"field": "s", "type": "nominal", "scale": {"domain": ["Local A", "Local B"], "range": ["black", "white"]}, "legend": null}}},
   {"data": {"values": [{}]}, "mark": {"type": "text", "align": "left", "baseline": "middle", "fontSize": 11}, "encoding": {"x": {"datum": 102}, "y": {"datum": 12.8}, "text": {"value": "ŷA = 50,16*(1-e"}}},
   {"data": {"values": [{}]}, "mark": {"type": "text", "align": "left", "baseline": "middle", "fontSize": 8, "dx": 73.1, "dy": -4.5}, "encoding": {"x": {"datum": 102}, "y": {"datum": 12.8}, "text": {"value": "(-0,0060x)"}}},
   {"data": {"values": [{}]}, "mark": {"type": "text", "align": "left", "baseline": "middle", "fontSize": 11, "dx": 107.1}, "encoding": {"x": {"datum": 102}, "y": {"datum": 12.8}, "text": {"value": ")"}}},
   {"data": {"values": [{}]}, "mark": {"type": "text", "align": "left", "baseline": "middle", "fontSize": 11}, "encoding": {"x": {"datum": 102}, "y": {"datum": 3.9}, "text": {"value": "ŷB = 14,36+55,17*(1-e"}}},
   {"data": {"values": [{}]}, "mark": {"type": "text", "align": "left", "baseline": "middle", "fontSize": 8, "dx": 103.5, "dy": -4.5}, "encoding": {"x": {"datum": 102}, "y": {"datum": 3.9}, "text": {"value": "(-0,0071x)"}}},
   {"data": {"values": [{}]}, "mark": {"type": "text", "align": "left", "baseline": "middle", "fontSize": 11, "dx": 137.5}, "encoding": {"x": {"datum": 102}, "y": {"datum": 3.9}, "text": {"value": ")"}}},
   {"data": {"values": [{}]}, "mark": {"type": "text", "align": "left", "baseline": "middle", "fontSize": 11}, "encoding": {"x": {"datum": 534}, "y": {"datum": 12.8}, "text": {"value": "R²=0,98**"}}},
   {"data": {"values": [{}]}, "mark": {"type": "text", "align": "left", "baseline": "middle", "fontSize": 11}, "encoding": {"x": {"datum": 524}, "y": {"datum": 3.9}, "text": {"value": "R²=0,99**"}}},
   {"data": {"values": [{}]}, "mark": {"type": "text", "align": "right", "baseline": "middle", "fontSize": 15.5}, "encoding": {"x": {"datum": 685}, "y": {"datum": 83.2}, "text": {"value": "(f)"}}}
  ]
 }
]
}
